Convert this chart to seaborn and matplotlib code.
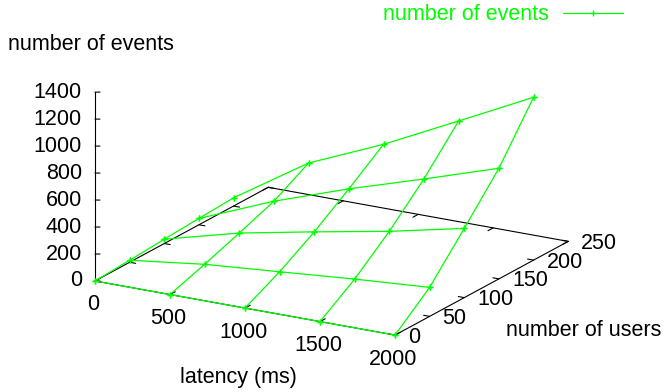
import matplotlib
matplotlib.use("Agg")
import matplotlib.pyplot as plt
from matplotlib.lines import Line2D
from mpl_toolkits.mplot3d import proj3d
import pandas as pd
import seaborn as sns

# grid of the measurement (latency in ms x number of users)
latency = [0, 500, 1000, 1500, 2000]
users = [0, 50, 100, 150, 200]
# number of events, one list per user count, ordered by latency
events_u0 = [0, 0, 0, 0, 0]
events_u50 = [15, 85, 130, 176, 215]
events_u100 = [32, 178, 287, 391, 513]
events_u150 = [47, 275, 467, 640, 820]
events_u200 = [61, 419, 658, 931, 1207]

latency_ticks = [0, 500, 1000, 1500, 2000]
user_ticks = [0, 50, 100, 150, 200, 250]
event_ticks = [0, 200, 400, 600, 800, 1000, 1200, 1400]

sns.set_theme(style="white")
plt.rcParams["font.family"] = ["Liberation Sans", "DejaVu Sans"]
FS = 15.5
GREEN = "#00ff00"
W, H = 667, 392

rows = []
for u, ev in zip(users, [events_u0, events_u50, events_u100, events_u150, events_u200]):
    for lat, e in zip(latency, ev):
        rows.append({"latency": lat, "users": u, "events": e})
df = pd.DataFrame(rows)
grid = df.pivot(index="users", columns="latency", values="events")

fig = plt.figure(figsize=(W / 100, H / 100), dpi=100)
side = 420
ax = fig.add_axes([(W - side) / 2 / W, (H - side) / 2 / H, side / W, side / H],
                  projection="3d", proj_type="ortho")
ax.set_axis_off()
ax.view_init(elev=18.2, azim=-60)
ax.set_box_aspect((1, 1, 0.574))
xmax, ymax, zmax = latency_ticks[-1], user_ticks[-1], event_ticks[-1]
ax.set_xlim(0, xmax)
ax.set_ylim(0, ymax)
ax.set_zlim(0, zmax)

# base frame and z axis
k = dict(color="black", lw=0.8)
ax.plot([0, xmax], [0, 0], [0, 0], **k)
ax.plot([0, xmax], [ymax, ymax], [0, 0], **k)
ax.plot([0, 0], [0, ymax], [0, 0], **k)
ax.plot([xmax, xmax], [0, ymax], [0, 0], **k)
ax.plot([0, 0], [0, 0], [0, zmax], **k)

# tick marks
tx, ty = xmax * 0.02, ymax * 0.03
for t in latency_ticks:
    ax.plot([t, t], [0, ty], [0, 0], **k)
    ax.plot([t, t], [ymax, ymax - ty], [0, 0], **k)
for t in user_ticks:
    ax.plot([xmax, xmax - tx], [t, t], [0, 0], **k)
    ax.plot([0, tx], [t, t], [0, 0], **k)
for t in event_ticks:
    ax.plot([0, 25], [0, 1.76], [t, t], **k)

# wireframe surface
mk = dict(color=GREEN, lw=0.9, marker="+", ms=4.5, mew=1)
for u in grid.index:
    ax.plot(grid.columns, [u] * len(grid.columns), grid.loc[u].values, **mk)
for lat in grid.columns:
    ax.plot([lat] * len(grid.index), grid.index, grid[lat].values, **mk)


def to_px(x, y, z):
    xs, ys, _ = proj3d.proj_transform(x, y, z, ax.M)
    return ax.transData.transform((xs, ys))


# fit the projected box onto the frame of the original
fig.canvas.draw()
p0 = to_px(0, 0, 0)
p1 = to_px(xmax, 0, 0)
s = (395 - 95) / (p1[0] - p0[0])
bb = ax.get_position()
cx, cy = (bb.x0 + bb.x1) / 2 * W, (bb.y0 + bb.y1) / 2 * H
nside = bb.width * W * s
ncx = 95 - s * (p0[0] - cx)
ncy = (H - 281) - s * (p0[1] - cy)
ax.set_position([(ncx - nside / 2) / W, (ncy - nside / 2) / H, nside / W, nside / H])
fig.canvas.draw()


def label(x, y, z, txt, dx, dy, **kw):
    px, py = to_px(x, y, z)
    fig.text((px + dx) / W, (py + dy) / H, txt, fontsize=FS, color="black", **kw)


# tick labels
for t in latency_ticks:
    label(t, 0, 0, str(t), -2, -24, ha="center", va="center")
for t in user_ticks:
    label(xmax, t, 0, str(t), 13, -2, ha="left", va="center")
for t in event_ticks:
    label(0, 0, t, str(t), -13, 0, ha="right", va="center")

fig.text(8 / W, 1 - 45 / H, "number of events", ha="left", va="center", fontsize=FS, color="black")
fig.text(238 / W, 1 - 377 / H, "latency (ms)", ha="center", va="center", fontsize=FS, color="black")
fig.text(584 / W, 1 - 330 / H, "number of users", ha="center", va="center", fontsize=FS, color="black")

handle = Line2D([], [], color=GREEN, lw=0.9, marker="+", ms=4.5, mew=1)
fig.legend([handle], ["number of events"], loc="center right", bbox_to_anchor=(623 / W, 1 - 15 / H),
           frameon=False, markerfirst=False, labelcolor=GREEN, fontsize=FS,
           handlelength=2.8, handletextpad=0.65, borderpad=0, borderaxespad=0)

fig.savefig("out.png", dpi=100)
